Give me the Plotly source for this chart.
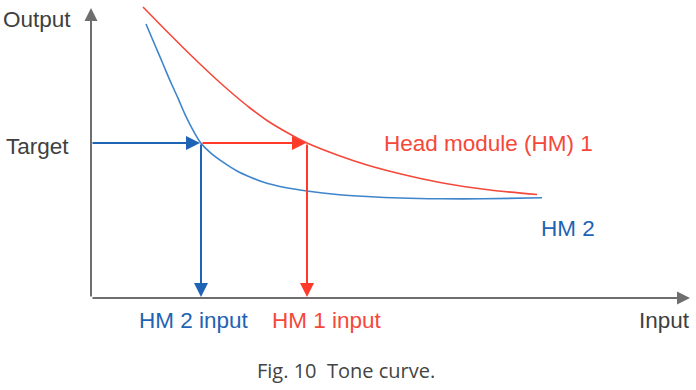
import plotly.graph_objects as go

# Tone curves (input vs output), in units measured from the axis origin
hm1_input = [52, 72, 92, 109, 125, 142, 159, 176, 196, 216, 249, 276, 310, 349, 399, 446]
hm1_output = [291, 270.5, 250.5, 234, 219, 204, 190, 177.5, 165.5, 155, 142, 133, 124, 115.5, 108, 103.5]
hm2_input = [55, 64, 72, 80, 87, 94, 101, 109, 119, 132, 146, 159, 172, 194, 216, 246, 276, 309, 349, 392, 451]
hm2_output = [274, 252.8, 234, 215.2, 199.8, 183.7, 169.7, 156.1, 145.6, 135.8, 127, 121, 116, 110.5, 107,
              103.5, 101.5, 100, 99.2, 99.2, 100.2]

target = 155
hm2_target_input = 110
hm1_target_input = 216
x_max = 599
y_max = 290

RED = "#F5483A"
RED_ARROW = "#FF3A2A"
BLUE = "#3F85CC"
BLUE_ARROW = "#1E63B4"
GRAY = "#6E6E6E"

fig = go.Figure()
fig.add_trace(go.Scatter(x=hm1_input, y=hm1_output, mode="lines",
                         line=dict(color=RED, width=1.6, shape="spline", smoothing=0.8),
                         hoverinfo="skip"))
fig.add_trace(go.Scatter(x=hm2_input, y=hm2_output, mode="lines",
                         line=dict(color=BLUE, width=1.6, shape="spline", smoothing=0.8),
                         hoverinfo="skip"))

def arrow(x0, y0, x1, y1, color, width=2, size=1.4):
    fig.add_annotation(x=x1, y=y1, ax=x0, ay=y0, xref="x", yref="y",
                       axref="x", ayref="y", showarrow=True, arrowhead=2,
                       arrowsize=size, arrowwidth=width, arrowcolor=color,
                       standoff=0, startstandoff=0, text="")

# axes
arrow(0, 0, 0, y_max, GRAY, 2, 1.3)
arrow(0, 0, x_max, 0, GRAY, 2, 1.3)
# lookup arrows
arrow(0, target, hm2_target_input - 1, target, BLUE_ARROW, 2, 1.4)
arrow(hm2_target_input, target, hm1_target_input - 1, target, RED_ARROW, 2, 1.4)
arrow(hm2_target_input, target, hm2_target_input, 1, BLUE_ARROW, 2, 1.4)
arrow(hm1_target_input, target, hm1_target_input, 1, RED_ARROW, 2, 1.4)

def label(x, y, text, color, size=22.5, family="Liberation Sans, Arial, sans-serif"):
    fig.add_annotation(x=x, y=y, xref="x", yref="y", text=text, showarrow=False,
                       font=dict(family=family, size=size, color=color),
                       xanchor="center", yanchor="middle")

label(-54, 279, "Output", "#404040")
label(-54, 152, "Target", "#404040")
label(397, 155, "Head module (HM) 1", RED)
label(477, 70, "HM 2", BLUE_ARROW)
label(103, -22, "HM 2 input", BLUE_ARROW)
label(236, -22, "HM 1 input", RED)
label(573, -22, "Input", "#404040")
label(255, -72, "Fig. 10  Tone curve.", "#444444", size=20,
      family="Open Sans, sans-serif")

fig.update_layout(
    width=696, height=390, margin=dict(l=0, r=0, t=0, b=0),
    plot_bgcolor="white", paper_bgcolor="white", showlegend=False,
    xaxis=dict(range=[-91, 605], visible=False, fixedrange=True),
    yaxis=dict(range=[-92, 298], visible=False, fixedrange=True),
)
fig.write_html("out.html")
